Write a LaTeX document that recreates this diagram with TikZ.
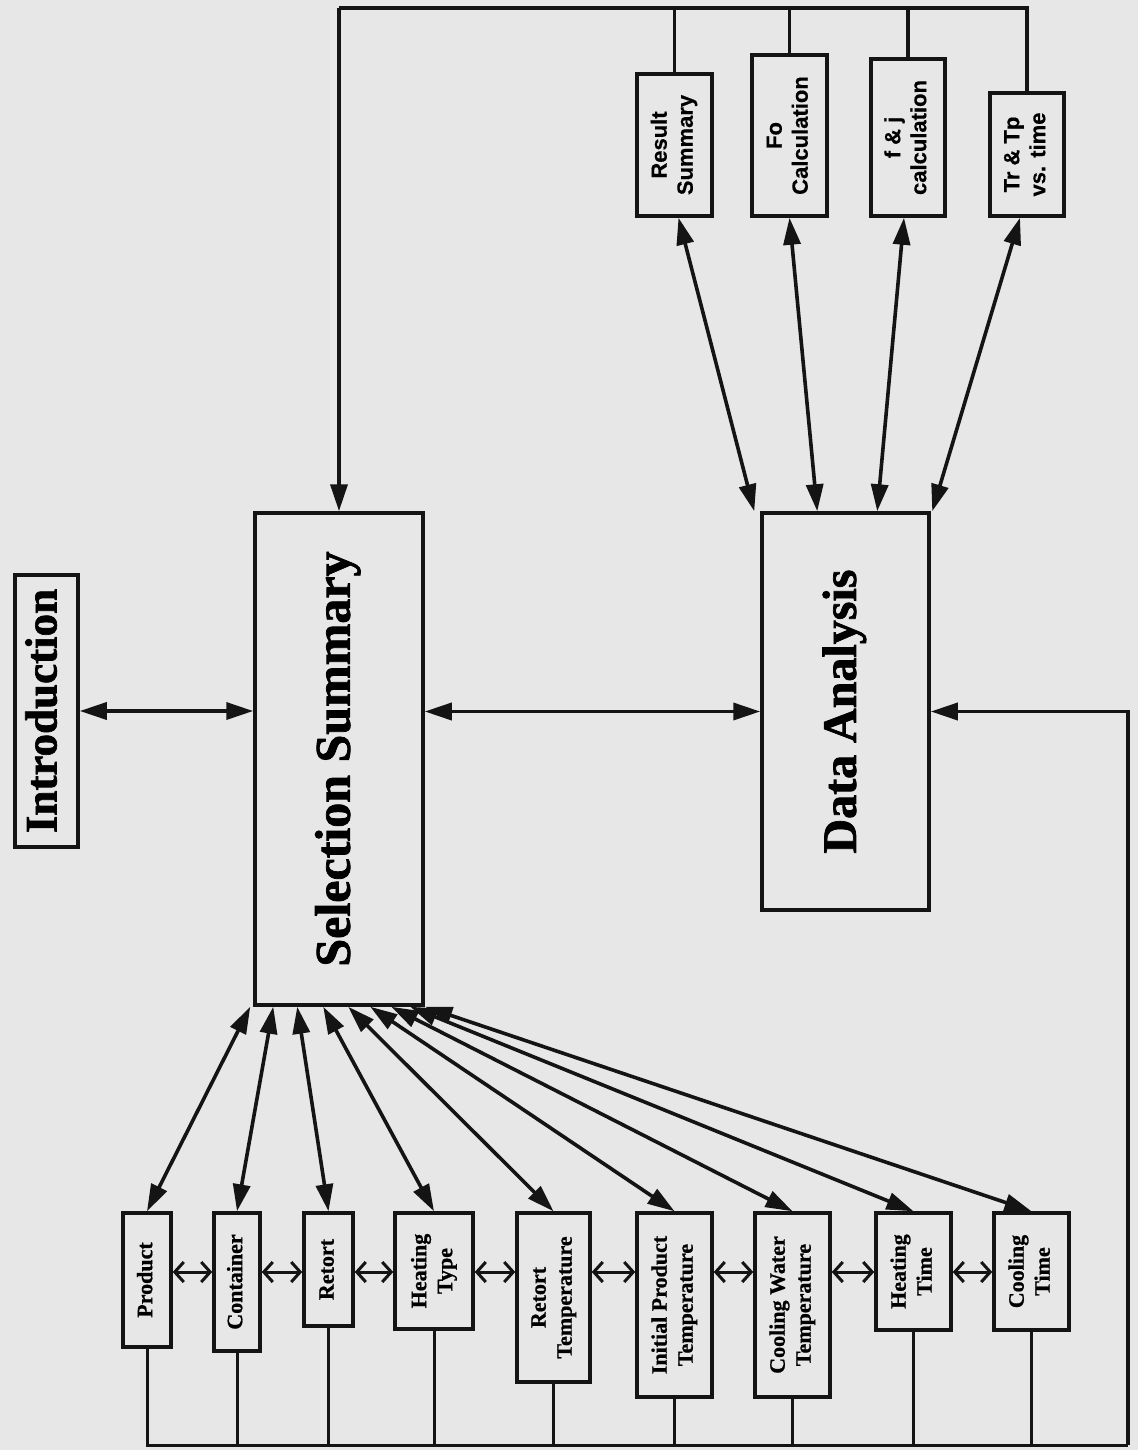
\documentclass[tikz,border=0pt]{standalone}
\usepackage{fontspec}
\setmainfont{Liberation Serif}
\newfontfamily\heavyserif{Liberation Serif Bold}[FakeBold=1.5]
\newfontfamily\midserif{Liberation Serif Bold}[FakeBold=0.8]
\newfontfamily\hsans{Liberation Sans Bold}[FakeBold=0.5]
\usetikzlibrary{arrows.meta,calc}
\definecolor{paper}{RGB}{231,231,231}
\definecolor{ink}{RGB}{20,20,20}
\tikzset{
  bigbox/.style={draw=ink, line width=3.5pt, inner sep=0pt, font=\heavyserif},
  tbox/.style={draw=ink, line width=3.5pt, inner sep=0pt, font=\hsans\fontsize{22}{26}\selectfont},
  bbox/.style={draw=ink, line width=3.5pt, inner sep=0pt, font=\midserif\fontsize{22}{26}\selectfont},
  conn/.style={draw=ink, line width=3.6pt},
  drop/.style={draw=ink, line width=3pt},
  tip/.tip={Triangle[length=27pt,width=17pt]},
  fan/.style={conn, tip-tip},
  one/.style={conn, -tip},
  hz/.style={conn, line width=3pt, {Straight Barb[length=9pt,width=20pt]}-{Straight Barb[length=9pt,width=20pt]}},
}
\newcommand{\vtext}[1]{\rotatebox{90}{\begin{tabular}{@{}c@{}}#1\end{tabular}}}
\begin{document}
\begin{tikzpicture}[x=1pt,y=-1pt]
\fill[paper] (0,0) rectangle (1138,1450);
\useasboundingbox (0,0) rectangle (1138,1450);

% big boxes
\node[bigbox, minimum width=63pt, minimum height=272pt] (in) at (46.5,711) {\fontsize{45}{50}\selectfont\vtext{Introduction}};
\node[bigbox, minimum width=168pt, minimum height=492pt] (ss) at (339,759) {\fontsize{50}{54}\selectfont\vtext{Selection Summary}};
\node[bigbox, minimum width=167pt, minimum height=397pt] (da) at (845.5,711.5) {\fontsize{48}{52}\selectfont\vtext{Data Analysis}};

% top boxes
\node[tbox, minimum width=75pt, minimum height=142pt] (rs) at (674.5,145) {\vtext{Result\\Summary}};
\node[tbox, minimum width=75pt, minimum height=161pt] (fo) at (789.5,135.5) {\vtext{Fo\\Calculation}};
\node[tbox, minimum width=74pt, minimum height=157pt] (fj) at (908,137.5) {\vtext{f \& j\\calculation}};
\node[tbox, minimum width=74pt, minimum height=123pt] (tr) at (1027,154.5) {\vtext{Tr \& Tp\\vs. time}};

% bottom boxes
\node[bbox, minimum width=48pt, minimum height=134pt] (pr) at (147,1280) {\vtext{Product}};
\node[bbox, minimum width=46pt, minimum height=138pt] (ct) at (237,1282) {\vtext{Container}};
\node[bbox, minimum width=49pt, minimum height=113pt] (rt) at (328.5,1269.5) {\vtext{Retort}};
\node[bbox, minimum width=78pt, minimum height=116pt] (ht) at (434,1271) {\vtext{Heating\\Type}};
\node[bbox, minimum width=73pt, minimum height=169pt] (rtt) at (553.5,1297.5) {\vtext{Retort\\Temperature}};
\node[bbox, minimum width=75pt, minimum height=184pt] (ipt) at (674.5,1305) {\vtext{Initial Product\\Temperature}};
\node[bbox, minimum width=75pt, minimum height=184pt] (cwt) at (792.5,1305) {\vtext{Cooling Water\\Temperature}};
\node[bbox, minimum width=75pt, minimum height=117pt] (hti) at (913.5,1271.5) {\vtext{Heating\\Time}};
\node[bbox, minimum width=75pt, minimum height=117pt] (cti) at (1031.5,1271.5) {\vtext{Cooling\\Time}};

% top bus
\coordinate (tl) at (ss.north |- 0,8);
\draw[conn] (tl) -| (tr.north);
\draw[conn] (rs.north) -- (rs.north |- tl);
\draw[conn] (fo.north) -- (fo.north |- tl);
\draw[conn] (fj.north) -- (fj.north |- tl);
\draw[one] (tl) -- (ss.north);

% top boxes <-> data analysis
\draw[fan] ($(rs.south)+(4,0)$) -- ($(da.north west)+(-6,0)$);
\draw[fan] (fo.south) -- ($(da.north west)+(57,0)$);
\draw[fan] ($(fj.south)+(-4,0)$) -- ($(da.north west)+(117,0)$);
\draw[fan] ($(tr.south)+(-7,0)$) -- ($(da.north west)+(172,0)$);

% middle row
\draw[fan] (in.east) -- (in.east -| ss.west);
\draw[fan] (da.west -| ss.east) -- (da.west);

% fan from selection summary
\draw[fan] ($(ss.south west)+(-3,0)$) -- (pr.north);
\draw[fan] ($(ss.south west)+(20,0)$) -- (ct.north);
\draw[fan] ($(ss.south west)+(44,0)$) -- (rt.north);
\draw[fan] ($(ss.south west)+(70,0)$) -- (ht.north);
\draw[fan] ($(ss.south west)+(95,0)$) -- (rtt.north);
\draw[fan] ($(ss.south west)+(117,0)$) -- (ipt.north);
\draw[fan] ($(ss.south west)+(138,0)$) -- (cwt.north);
\draw[fan] ($(ss.south west)+(157,0)$) -- (hti.north);
\draw[fan] ($(ss.south west)+(172,0)$) -- (cti.north);

% horizontal links between bottom boxes
\coordinate (hy) at (0,1272);
\draw[hz] (pr.east |- hy) -- (ct.west |- hy);
\draw[hz] (ct.east |- hy) -- (rt.west |- hy);
\draw[hz] (rt.east |- hy) -- (ht.west |- hy);
\draw[hz] (ht.east |- hy) -- (rtt.west |- hy);
\draw[hz] (rtt.east |- hy) -- (ipt.west |- hy);
\draw[hz] (ipt.east |- hy) -- (cwt.west |- hy);
\draw[hz] (cwt.east |- hy) -- (hti.west |- hy);
\draw[hz] (hti.east |- hy) -- (cti.west |- hy);

% bottom bus
\coordinate (br) at (1128,1445);
\draw[drop] (pr.south) |- (br);
\draw[one] (br) |- (da.east);
\foreach \n in {ct,rt,ht,rtt,ipt,cwt,hti,cti}
  \draw[drop] (\n.south) -- (\n.south |- br);
\end{tikzpicture}
\end{document}
